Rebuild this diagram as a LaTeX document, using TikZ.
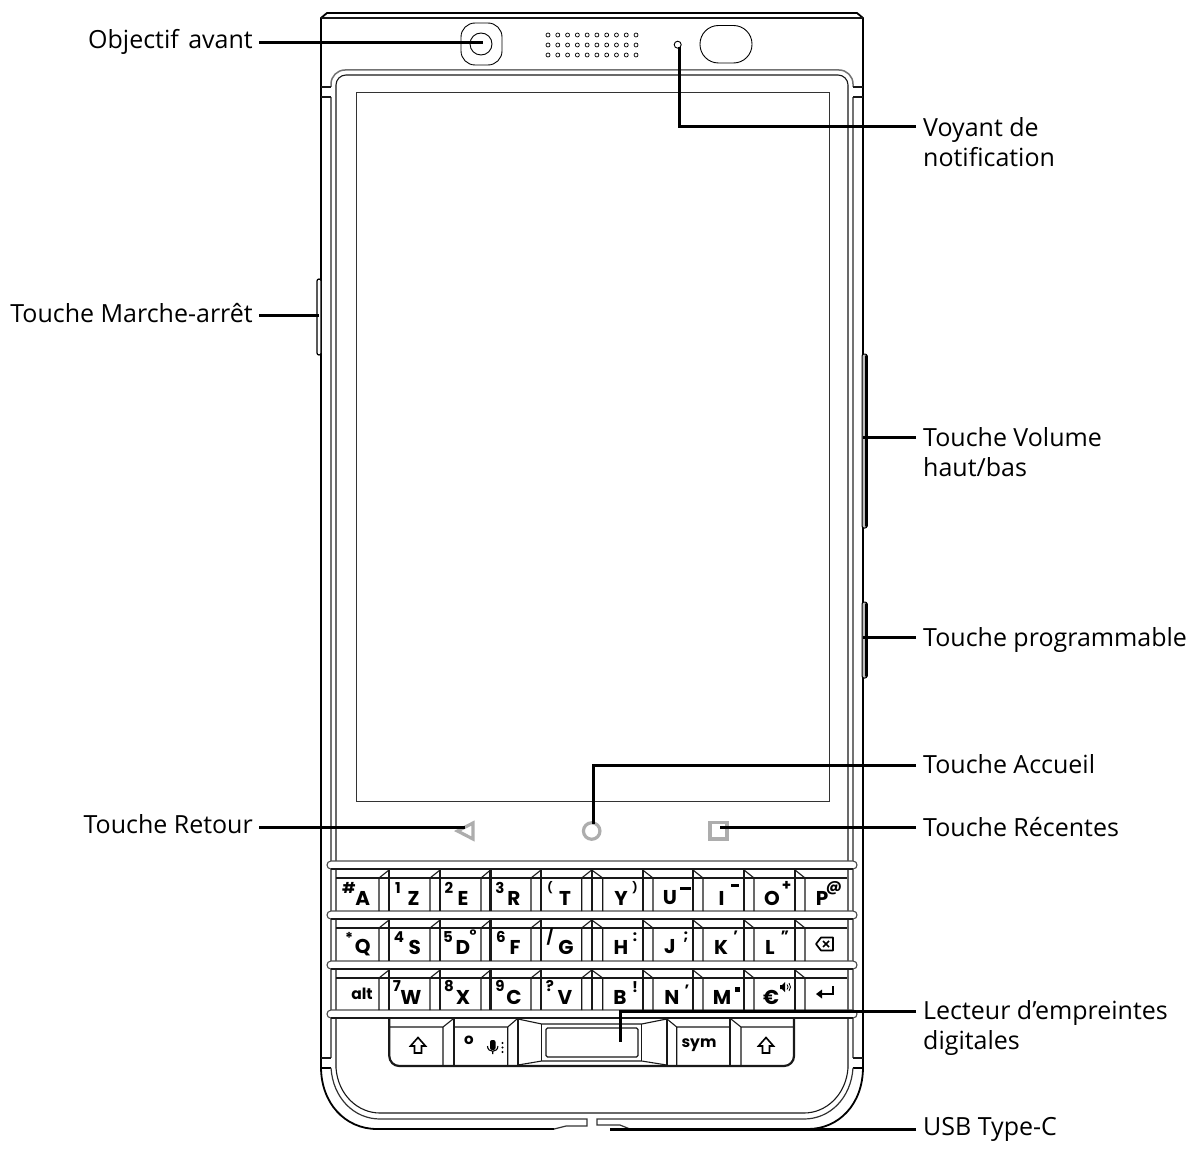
\documentclass[tikz,border=0pt]{standalone}
\usepackage{fontspec}
\setmainfont{Open Sans}
\newfontfamily\keyfont{Poppins}
\definecolor{railgray}{gray}{0.45}
\definecolor{navgray}{gray}{0.68}
\tikzset{
  x=1pt,y=-1pt,
  outline/.style={line width=1.8pt,black,line join=round},
  thin line/.style={line width=1.1pt,black!90},
  gray line/.style={line width=1.5pt,railgray},
  leader/.style={line width=3pt,black,line cap=butt,line join=miter},
  nav/.style={line width=3.2pt,navgray},
  bar/.style={line width=2.2pt,black!90},
  label/.style={inner sep=0pt,font=\fontsize{25pt}{30pt}\selectfont,align=left},
  key/.style={inner sep=0pt,font=\keyfont\bfseries\fontsize{20pt}{20pt}\selectfont},
  sup/.style={inner sep=0pt,font=\keyfont\bfseries\fontsize{15pt}{15pt}\selectfont},
}
\begin{document}
\begin{tikzpicture}
\useasboundingbox (0,0) rectangle (1193,1153);
\fill[white] (0,0) rectangle (1193,1153);
% body
\draw[outline] (630,1129) -- (808,1129) .. controls (838,1129) and (863,1105) .. (863,1067)
  -- (863,18) -- (857,13) -- (327,13) -- (321,18) -- (321,1067)
  .. controls (321,1103) and (345,1129) .. (377,1129) -- (554,1129);
\draw[thin line] (321,18) -- (863,18);
% side buttons
\draw[line width=1.2pt,fill=white,rounded corners=2pt] (317,279) rectangle (321,355);
\draw[line width=1pt,fill=black!25,rounded corners=2pt] (862,354) rectangle (867,528);
\draw[line width=2.6pt,line cap=round] (866.5,356) -- (866.5,526);
\draw[line width=1pt,fill=black!25,rounded corners=2pt] (862,602) rectangle (867,678);
\draw[line width=2.6pt,line cap=round] (866.5,604) -- (866.5,676);
% bezel
\draw[gray line,rounded corners=14pt] (331,87) -- (331,70) -- (853,70) -- (853,87);
\draw[thin line,rounded corners=10pt] (336,1068) -- (336,75) -- (848,75) -- (848,1068);
\draw[gray line] (331,97) -- (331,1058);
\draw[gray line] (853,97) -- (853,1058);
\draw[thin line] (321,87) -- (331,87) (321,97) -- (331,97);
\draw[thin line] (853,87) -- (863,87) (853,97) -- (863,97);
\draw[thin line] (321,1058) -- (331,1058);
\draw[line width=1.2pt] (321,1068) -- (331,1068);
\draw[thin line] (853,1058) -- (863,1058);
\draw[line width=1.2pt] (853,1068) -- (863,1068);
% chin
\draw[thin line] (336,1068) .. controls (338,1095) and (358,1113) .. (380,1113) -- (804,1113) .. controls (826,1113) and (846,1095) .. (848,1068);
\draw[line width=1.2pt,black!80] (331,1068) .. controls (333,1098) and (354,1119) .. (380,1119) -- (587,1119) -- (587,1126) -- (566,1126) -- (554,1129);
\draw[line width=1.2pt,black!80] (853,1068) .. controls (851,1098) and (830,1119) .. (804,1119) -- (597,1119) -- (597,1125) -- (620,1125) -- (630,1129);
% screen
\draw[line width=1pt,black!80] (356.5,93) rectangle (829,801);
% camera, speaker, LED, sensor
\draw[line width=0.9pt,rounded corners=14pt] (461,23) rectangle (502,65);
\node[circle,draw,line width=0.9pt,minimum size=22pt,inner sep=0pt] (lens) at (481,44) {};
\foreach \yy in {35,45,55}\foreach \xx in {0,...,9}
  \draw[line width=0.7pt] (548+\xx*9.78,\yy) circle[radius=2pt];
\node[circle,draw,line width=0.9pt,minimum size=7pt,inner sep=0pt] (led) at (677.7,44.7) {};
\draw[line width=0.9pt,rounded corners=18.5pt] (700,25.5) rectangle (752,63);
% nav keys
\draw[nav,line join=miter] (457.5,831) -- (473,823) -- (473,839) -- cycle;
\node[circle,draw=navgray,line width=3.2pt,minimum size=16.5pt,inner sep=0pt] (home) at (591.7,831) {};
\draw[nav] (710,822.5) rectangle (727,839);
% rails
\foreach \t/\b in {861/869,911/919,961/969,1010/1018}{
  \draw[line width=1.1pt,black!70,fill=white] (331,\t) -- (853,\t) .. controls (858.3,\t) and (858.3,\b) .. (853,\b) -- (331,\b) .. controls (325.7,\b) and (325.7,\t) .. (331,\t) -- cycle;
  \draw[line width=2.2pt,black!90] (331,\b) -- (853,\b);
}
% key rows
\foreach \top/\face/\bot in {869/878/911,919/928/961,969/978/1010}{
  \draw[thin line] (336,\face) -- (847,\face);
  \foreach \d/\f in {389/379,440/430,490.5/481,541/531,591.7/581.7}{
    \draw[bar] (\d,\top) -- (\d,\bot);
    \draw[thin line] (\f,\face) -- (\f,\bot) (\f,\face) -- (\d,\top+1);
  }
  \foreach \d/\f in {591.7/602.7,642.7/653,693/703,744/754,795/805}{
    \draw[bar] (\d,\top) -- (\d,\bot);
    \draw[thin line] (\f,\face) -- (\f,\bot) (\f,\face) -- (\d,\top+1);
  }
}
% bottom row
\draw[line width=2.2pt,black!90,rounded corners=10pt] (389.3,1018) -- (389.3,1066) -- (794,1066) -- (794,1018);
\draw[bar] (454,1018) -- (454,1066) (517.7,1018) -- (517.7,1066) (666.7,1018) -- (666.7,1066) (730,1018) -- (730,1066);
\draw[thin line] (389.3,1027) -- (443,1027) -- (453,1019) (443,1027) -- (443,1066);
\draw[thin line] (454,1027) -- (507.7,1027) -- (517,1019) (507.7,1027) -- (507.7,1066);
\draw[thin line] (667,1019) -- (676.7,1027) -- (730,1027) (676.7,1027) -- (676.7,1066);
\draw[thin line] (731,1019) -- (741,1027) -- (794,1027) (741,1027) -- (741,1066);
\draw[thin line] (518,1019) -- (541.7,1024) -- (641.7,1024) -- (666.7,1019);
\draw[thin line] (518,1065) -- (541.7,1061) -- (641.7,1061) -- (666.7,1065);
\draw[thin line] (541.7,1024) -- (541.7,1061) (641.7,1024) -- (641.7,1061);
\draw[thin line,rounded corners=1.5pt] (546,1028) rectangle (638,1057);
% key caps
\foreach \n/\xx/\yy/\tx in {A/362.7/898/A,Z/413.5/898/Z,E/463/898/E,R/514/898/R,T/565/898/T,Y/621/898/Y,U/670/898/U,I/721.5/898/I,O/772/898/O,P/822/898/P,
 Q/362.7/948/Q,S/414.7/947/S,D/463/947/D,F/515/947/F,G/566/947/G,H/621/947/H,J/670/947/J,K/721/947/K,L/770/947/L,
 W/411/997/W,X/463/997/X,C/514/997/C,V/565/997/V,B/620/997/B,N/672/997/N,M/722/997/M,Eu/771/997/€}
  \node[key] (k\n) at (\xx,\yy) {\tx};
\foreach \n/\xx/\yy/\tx in {a/349/888/\#,b/398/888/1,c/449/888/2,d/500/888/3,g/786.6/886/+,h/834/888/@,
 i/349/938/*,j/399/937/4,k/448/937/5,l/473/935/°,m/501/937/6,o/635/937/:,p/686/937/;,q/735.7/936/’,r/785/936/”,
 s/397/986/7,t/449/986/8,u/500/986/9,v/550/986/?,w/635/987/!,x/687/990/’}
  \node[sup] (s\n) at (\xx,\yy) {\tx};
\node[sup] (sn) at (550,937) {/};
\node[sup,font=\keyfont\bfseries\fontsize{11pt}{12pt}\selectfont] (se) at (550,888) {(};
\node[sup,font=\keyfont\bfseries\fontsize{11pt}{12pt}\selectfont] (sf) at (635,888) {)};
\fill (680,886.5) rectangle (690.5,889.5);
\fill (730.5,884) rectangle (738.5,886.5);
\fill (734.5,986.5) rectangle (739.5,991.5);
\node[key,font=\keyfont\bfseries\fontsize{15.5pt}{15.5pt}\selectfont] (kalt) at (362,994) {alt};
\node[key,font=\keyfont\bfseries\fontsize{15.5pt}{15.5pt}\selectfont] (ksym) at (699,1045) {sym};
\node[sup,font=\keyfont\bfseries\fontsize{15pt}{15pt}\selectfont] (kdeg) at (469,1040) {o};
% icons
\draw[line width=1.7pt,line join=round] (816,944) -- (821,937.5) -- (833,937.5) -- (833,950.5) -- (821,950.5) -- cycle (823,941) -- (829,947) (829,941) -- (823,947);
\draw[line width=2.2pt] (833,986) -- (833,994) -- (819,994);
\fill (816,994) -- (822,989.5) -- (822,998.5) -- cycle;
\fill (780,985) -- (782,985) -- (785,982) -- (785,992) -- (782,989) -- (780,989) -- cycle;
\draw[line width=0.8pt] (787,984.5) .. controls (788.5,986) and (788.5,988) .. (787,989.5)
  (789,983) .. controls (791,985.5) and (791,988.5) .. (789,991);
\foreach \xx in {418,766}
  \draw[line width=1.6pt,line join=miter] (\xx,1037.5) -- (\xx+7.5,1046) -- (\xx+3.5,1046) -- (\xx+3.5,1053) -- (\xx-3.5,1053) -- (\xx-3.5,1046) -- (\xx-7.5,1046) -- cycle;
\fill[rounded corners=2pt] (490,1040) rectangle (495.5,1050);
\draw[line width=1.1pt] (487.5,1046) .. controls (487.5,1053) and (497.9,1053) .. (497.9,1046) (492.7,1051) -- (492.7,1054);
\foreach \yy in {1043,1047.5,1052} \fill (502.5,\yy) circle[radius=1.1pt];
% labels
\node[label,anchor=east] (objectif) at (253,42) {Objectif\hskip3pt\ avant};
\node[label,anchor=east] (power) at (253,313) {Touche Marche-arrêt};
\node[label,anchor=east] (retour) at (253,824) {Touche Retour};
\node[label,anchor=west] (voyant) at (923,142) {Voyant de\\notification};
\node[label,anchor=west] (volume) at (923,452) {Touche Volume\\haut/bas};
\node[label,anchor=west] (prog) at (923,640) {Touche programmable};
\node[label,anchor=west] (accueil) at (923,764) {Touche Accueil};
\node[label,anchor=west] (recentes) at (923,827) {Touche Récentes};
\node[label,anchor=west] (lecteur) at (923,1028) {Lecteur d’empreintes\\digitales};
\node[label,anchor=west] (usb) at (923,1129) {USB Type-C};
% connector ends
\coordinate (lobj) at (259,43);  \coordinate (eobj) at (lens.center);
\coordinate (lpow) at (259,315); \coordinate (epow) at (319,315);
\coordinate (lret) at (259,827); \coordinate (eret) at (465,827);
\coordinate (lvoy) at (916,127); \coordinate (evoy) at (679,47);
\coordinate (lvol) at (916,437); \coordinate (evol) at (863,437);
\coordinate (lprg) at (916,637); \coordinate (eprg) at (863,637);
\coordinate (lacc) at (916,765); \coordinate (eacc) at (593,824);
\coordinate (lrec) at (916,827); \coordinate (erec) at (720,827);
\coordinate (llec) at (916,1011);\coordinate (elec) at (620,1042);
\coordinate (lusb) at (916,1129);\coordinate (eusb) at (610,1129);
% leaders
\draw[leader] (lobj) -- (eobj |- lobj) -- ++(2,0);
\draw[leader] (lpow) -- (epow);
\draw[leader] (lret) -- (eret);
\draw[leader] (lvoy) -| (evoy);
\draw[leader] (lvol) -- (evol);
\draw[leader] (lprg) -- (eprg);
\draw[leader] (lacc) -| (eacc);
\draw[leader] (lrec) -- (erec);
\draw[leader] (llec) -| (elec);
\draw[leader] (lusb) -- (eusb);
\end{tikzpicture}
\end{document}
